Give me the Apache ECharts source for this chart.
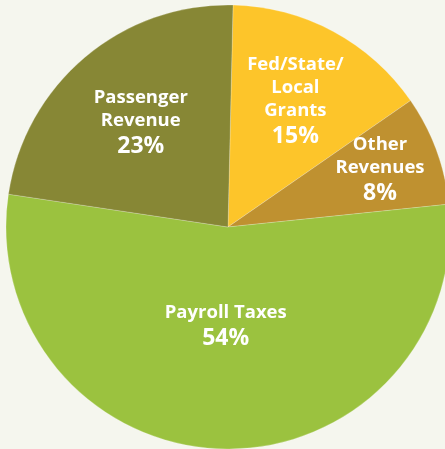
<!doctype html>
<html>
<head>
<meta charset="utf-8">
<style>
  html, body { margin: 0; padding: 0; background: #f5f6ee; }
  #main { width: 445px; height: 449px; }
</style>
</head>
<body>
<div id="main"></div>
<script src="https://cdn.jsdelivr.net/npm/echarts@6/dist/echarts.min.js"></script>
<script>
var names = ['Fed/State/\nLocal\nGrants', 'Other\nRevenues', 'Payroll Taxes', 'Passenger\nRevenue'];
var values = [15, 8, 54, 23];
var colors = ['#fdc52a', '#bf9130', '#9bc23f', '#878735'];
// how far out (fraction of radius) each label sits
var labelDist = [0.64, 0.73, 0.45, 0.61];

var cx = 228, cy = 227, R = 222, startAngle = 88.7;
var total = values.reduce(function (a, b) { return a + b; }, 0);

var chart = echarts.init(document.getElementById('main'));

chart.setOption({
    backgroundColor: '#f5f6ee',
    animation: false,
    series: [{
        type: 'pie',
        center: [cx, cy],
        radius: [0, R],
        startAngle: startAngle,
        clockwise: true,
        silent: true,
        itemStyle: { borderColor: 'rgba(255,255,255,0.35)', borderWidth: 0.6 },
        label: {
            show: true,
            position: 'inside',
            color: '#fff',
            fontFamily: 'Open Sans',
            formatter: function (p) {
                return p.name.split('\n').map(function (s) { return '{n|' + s + '}'; }).join('\n') +
                    '\n{p|' + p.value + '%}';
            },
            rich: {
                n: { fontSize: 18.5, fontWeight: 'bold', color: '#fff', fontFamily: 'Open Sans', lineHeight: 23 },
                p: { fontSize: 23, fontWeight: 'bold', color: '#fff', fontFamily: 'Open Sans', lineHeight: 29 }
            }
        },
        labelLine: { show: false },
        labelLayout: function (p) {
            var cum = 0;
            for (var i = 0; i < p.dataIndex; i++) cum += values[i];
            var mid = (startAngle - (cum + values[p.dataIndex] / 2) / total * 360) * Math.PI / 180;
            var d = R * labelDist[p.dataIndex];
            return {
                x: cx + d * Math.cos(mid),
                y: cy - d * Math.sin(mid),
                align: 'center',
                verticalAlign: 'middle'
            };
        },
        data: names.map(function (n, i) {
            return { name: n, value: values[i], itemStyle: { color: colors[i] } };
        })
    }]
});

window.onresize = chart.resize;
</script>
</body>
</html>
